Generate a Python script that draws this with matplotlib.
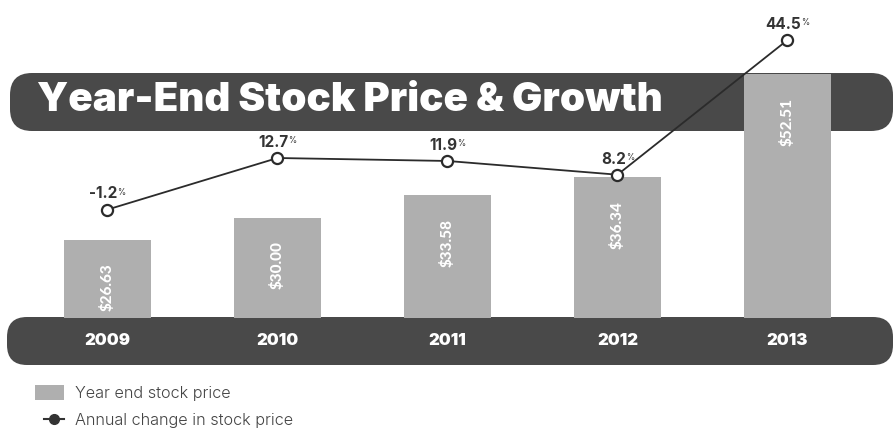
import numpy as np
import matplotlib
matplotlib.use("Agg")
import matplotlib.pyplot as plt
from matplotlib.patches import FancyBboxPatch, Patch
from matplotlib.lines import Line2D
from matplotlib.legend_handler import HandlerLine2D

plt.rcParams["font.family"] = ["Inter", "DejaVu Sans"]

# --- data ---------------------------------------------------------------
years = ["2009", "2010", "2011", "2012", "2013"]
prices = [26.63, 30.00, 33.58, 36.34, 52.51]
price_labels = ["$26.63", "$30.00", "$33.58", "$36.34", "$52.51"]
growth = [-1.2, 12.7, 11.9, 8.2, 44.5]
growth_labels = ["-1.2", "12.7", "11.9", "8.2", "44.5"]

# --- styling ------------------------------------------------------------
W, H = 895, 436
BAND = "#494949"
BAR = "#afafaf"
INK = "#2b2b2b"

fig = plt.figure(figsize=(W / 100, H / 100), dpi=100)


def rect(x0, y0, x1, y1):
    """Pixel box (origin top-left) -> figure-fraction rect."""
    return [x0 / W, 1 - y1 / H, (x1 - x0) / W, (y1 - y0) / H]


# background layer: title banner and year banner
bg = fig.add_axes([0, 0, 1, 1], zorder=0)
bg.set_xlim(0, W)
bg.set_ylim(H, 0)
bg.axis("off")
bg.add_patch(FancyBboxPatch((10, 73), 883, 58,
                            boxstyle="round,pad=0,rounding_size=22",
                            fc=BAND, ec="none"))
bg.add_patch(FancyBboxPatch((7, 317), 886, 48,
                            boxstyle="round,pad=0,rounding_size=20",
                            fc=BAND, ec="none"))
bg.text(37, 100, "Year-End Stock Price & Growth", color="white",
        fontsize=29, fontweight=900, ha="left", va="center")

# bars: year-end stock price
ax = fig.add_axes(rect(0, 0, W, 318), zorder=1)
ax.patch.set_alpha(0)
x = np.arange(len(years))
ax.set_xlim(-107.5 / 170, (W - 107.5) / 170)
ax.set_ylim((410 - 318) / 6.4, 410 / 6.4)
ax.bar(x, prices, width=0.506, color=BAR, zorder=2)
for i, (p, lab) in enumerate(zip(prices, price_labels)):
    ax.annotate(lab, xy=(i, p), xytext=(0, -17), textcoords="offset points",
                rotation=90, ha="center", va="top", color="white",
                fontsize=11, fontweight=900, family="Lato")
ax.set_xticks(x, years)
ax.tick_params(axis="x", length=0, pad=16.5, labelsize=12, labelcolor="white")
for lbl in ax.get_xticklabels():
    lbl.set_fontweight(900)
    lbl.set_va("center")
ax.set_yticks([])
for s in ax.spines.values():
    s.set_visible(False)

# line: annual change in stock price
lx = ax.twinx()
lx.set_zorder(2)
lx.patch.set_alpha(0)
lx.set_ylim(12.7 - 160 / 3.71, 12.7 + 158 / 3.71)
lx.set_yticks([])
for s in lx.spines.values():
    s.set_visible(False)
lx.plot(x, growth, color=INK, lw=1.3, marker="o", ms=8, mfc="white",
        mec=INK, mew=1.6, clip_on=False, zorder=3)
for i, (g, lab) in enumerate(zip(growth, growth_labels)):
    t = lx.annotate(lab, xy=(i, g), xytext=(-3, 8), textcoords="offset points",
                    ha="center", va="baseline", fontsize=11, fontweight=700,
                    color="#333333")
    lx.annotate("%", xy=(1.0, 0.92), xycoords=t, ha="left", va="top",
                fontsize=6, color="#333333")


class MarkerLeft(HandlerLine2D):
    def get_xdata(self, legend, xdescent, ydescent, width, height, fontsize):
        xdata = np.array([-xdescent + width * 0.3, -xdescent + width])
        return xdata, np.array([-xdescent + width * 0.3])


handles = [Patch(fc=BAR, ec="none"),
           Line2D([], [], color="#333333", lw=1.5, marker="o", ms=7,
                  mfc="#333333", mec="#333333")]
fig.legend(handles, ["Year end stock price", "Annual change in stock price"],
           loc="upper left", bbox_to_anchor=(35 / W, 1 - 385 / H),
           frameon=False, prop=dict(family="Inter", weight=300, size=11.7),
           labelcolor="#444444", handlelength=1.8, handleheight=1.0,
           handletextpad=0.65, labelspacing=0.7, borderpad=0, borderaxespad=0,
           handler_map={Line2D: MarkerLeft()})

fig.savefig("out.png", dpi=100)
